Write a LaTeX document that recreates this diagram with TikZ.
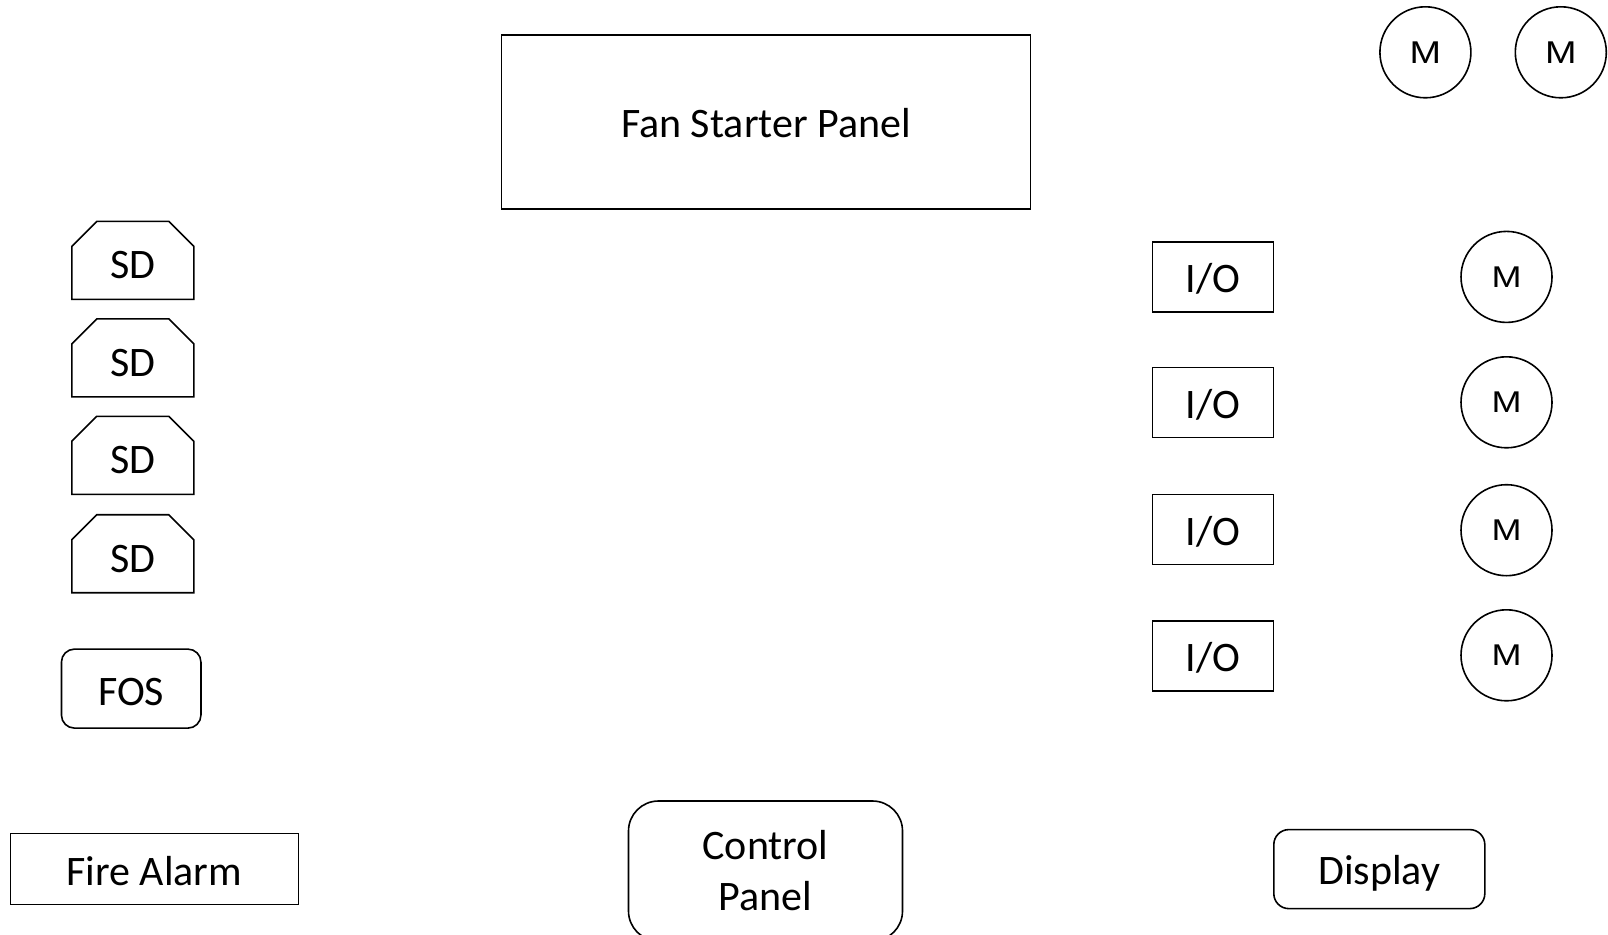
\documentclass[tikz,border=0pt]{standalone}
\usepackage{fontspec}
\setmainfont{Carlito}
\newfontfamily\motorfont{Liberation Sans}
\usetikzlibrary{shapes.misc}
% pad a label's box on top so that it sits #1 lower within its node
\newcommand{\lowered}[2]{\raisebox{0pt}[\dimexpr\height+2\dimexpr#1\relax\relax][\depth]{#2}}
% wide motor letter
\newcommand{\motorM}{\scalebox{1.2}[1]{M}}
\begin{document}
\begin{tikzpicture}[x=1pt,y=-1pt,
  every node/.style={inner sep=0pt, line width=1.6pt, font=\fontsize{42}{51}\selectfont, align=center},
  panel/.style={draw, rectangle},
  rpanel/.style={draw, rectangle, rounded corners=#1},
  sensor/.style={draw, chamfered rectangle, chamfered rectangle corners={north west,north east},
    chamfered rectangle xsep=12.5pt, chamfered rectangle ysep=12.5pt,
    minimum width=122pt, minimum height=78pt},
  iobox/.style={draw, rectangle, minimum width=121pt, minimum height=70pt},
  motor/.style={draw, circle, minimum size=91pt, font=\motorfont\fontsize{31.5}{32}\selectfont},
  smallmotor/.style={draw, circle, minimum size=91pt, font=\motorfont\fontsize{30}{30}\selectfont}
]
\useasboundingbox (0,0) rectangle (1608,934);
\fill[white] (0,0) rectangle (1608,934);

% Panels
\node[panel, minimum width=529pt, minimum height=174pt] (fsp) at (766,122) {\lowered{1pt}{Fan Starter Panel}};
\node[panel, minimum width=288pt, minimum height=71pt] (fa) at (154.3,869.1) {\lowered{1.5pt}{Fire Alarm}};
\node[rpanel=30pt, minimum width=274pt, minimum height=140pt] (cp) at (765.5,871) {Control\\Panel};
\node[rpanel=15pt, minimum width=211pt, minimum height=79pt] (disp) at (1379.3,869.1) {\lowered{4pt}{Display}};
\node[rpanel=13pt, minimum width=139.5pt, minimum height=79pt] (fos) at (131.2,688.6) {\lowered{3pt}{FOS}};

% Smoke detectors
\node[sensor] (sd1) at (132.8,260.4) {\lowered{5pt}{SD}};
\node[sensor] (sd2) at (132.8,357.9) {\lowered{5pt}{SD}};
\node[sensor] (sd3) at (132.8,455.3) {\lowered{5pt}{SD}};
\node[sensor] (sd4) at (132.8,553.7) {\lowered{5pt}{SD}};

% I/O modules
\node[iobox] (io1) at (1213.1,276.9) {\lowered{2pt}{I/O}};
\node[iobox] (io2) at (1213.1,402.5) {\lowered{2pt}{I/O}};
\node[iobox] (io3) at (1213.1,529.6) {\lowered{2pt}{I/O}};
\node[iobox] (io4) at (1213.1,655.8) {\lowered{2pt}{I/O}};

% Motors
\node[smallmotor] (m1) at (1506.5,276.9) {\motorM};
\node[smallmotor] (m2) at (1506.5,402.3) {\motorM};
\node[smallmotor] (m3) at (1506.5,530.2) {\motorM};
\node[smallmotor] (m4) at (1506.5,655.3) {\motorM};
\node[motor] (ma) at (1425.4,52.3) {\motorM};
\node[motor] (mb) at (1560.8,52.3) {\motorM};
\end{tikzpicture}
\end{document}
